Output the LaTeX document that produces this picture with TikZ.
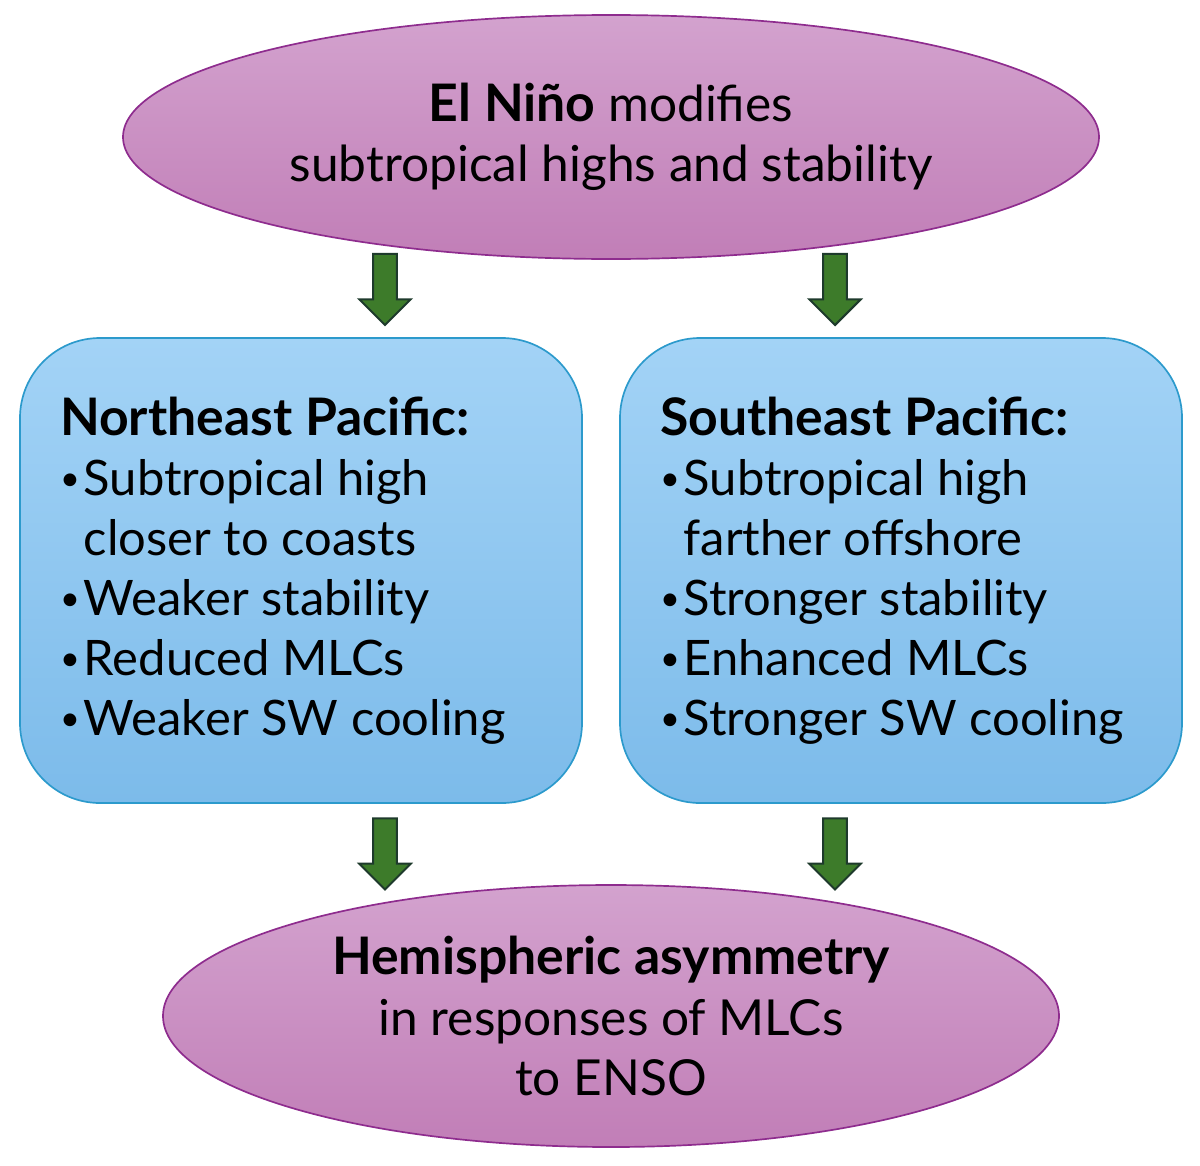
\documentclass[tikz,border=0pt]{standalone}
\usepackage{fontspec}
\setmainfont{Lato}
\usepackage{tikz}
\usetikzlibrary{shapes.geometric, shapes.arrows, positioning, calc}
\definecolor{pinktop}{HTML}{D3A2CE}
\definecolor{pinkbot}{HTML}{C17EB7}
\definecolor{pinkline}{HTML}{8E2C8E}
\definecolor{bluetop}{HTML}{A3D3F6}
\definecolor{bluebot}{HTML}{7CBBEA}
\definecolor{blueline}{HTML}{2C9ACC}
\definecolor{arrowfill}{HTML}{3D7B2A}
\definecolor{arrowline}{HTML}{1E3A2C}

\tikzset{
  oval/.style={ellipse, draw=pinkline, line width=1.2pt, top color=pinktop, bottom color=pinkbot,
    inner sep=0pt, align=center, font=\fontsize{35.3}{43}\selectfont},
  region/.style={draw=blueline, line width=1.2pt, rounded corners=2cm, top color=bluetop, bottom color=bluebot,
    minimum width=14.05cm, minimum height=11.625cm, text width=12.05cm, align=flush left, inner xsep=1cm,
    font=\fontsize{34.8}{42.7}\selectfont},
  downarrow/.style={single arrow, draw=arrowline, line width=1.4pt, fill=arrowfill, shape border rotate=270,
    minimum height=1.78cm, minimum width=1.28cm, single arrow head extend=0.35cm,
    inner xsep=0.27cm, inner ysep=0pt}
}
\newcommand{\hd}[1]{{\fontsize{36.8}{42.7}\selectfont\bfseries #1}}
\newcommand{\itm}{\raisebox{0.1em}{\scalebox{0.7}{\textbullet}}\hspace{0.08em}}
\newcommand{\cont}{\phantom{\itm}}

\begin{document}
\begin{tikzpicture}
  \useasboundingbox (0,0) rectangle (30,-29.125);
  % top and bottom ovals
  \node[oval, minimum width=24.4cm, minimum height=6.1cm] (nino) at (15.275,-3.425)
    {\hd{El Niño} modifies\\subtropical highs and stability};
  \node[oval, minimum width=22.4cm, minimum height=6.55cm] (asym) at (15.275,-25.4)
    {\hd{Hemispheric asymmetry}\\in responses of MLCs\\to ENSO};

  % the two regions
  \node[region] (nepac) at (7.525,-14.2625)
    {\hd{Northeast Pacific:}\\
     \itm Subtropical high\\ \cont closer to coasts\\
     \itm Weaker stability\\ \itm Reduced MLCs\\ \itm Weaker SW cooling};
  \node[region] (sepac) at (22.525,-14.2625)
    {\hd{Southeast Pacific:}\\
     \itm Subtropical high\\ \cont farther offshore\\
     \itm Stronger stability\\ \itm Enhanced MLCs\\ \itm Stronger SW cooling};

  % block arrows
  \node[downarrow] (a1) at (9.625,-7.09) {};
  \node[downarrow] (a2) at (20.875,-7.09) {};
  \node[downarrow] (a3) at (9.625,-21.2) {};
  \node[downarrow] (a4) at (20.875,-21.2) {};
\end{tikzpicture}
\end{document}
